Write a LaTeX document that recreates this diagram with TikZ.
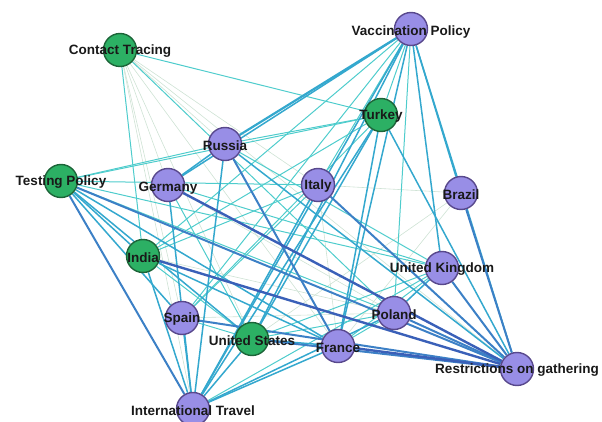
\documentclass[tikz,border=0pt]{standalone}
\usepackage{fontspec}
\setmainfont{Liberation Sans}
\usetikzlibrary{backgrounds}
\definecolor{pfill}{RGB}{152,142,230}
\definecolor{pdraw}{RGB}{88,72,140}
\definecolor{gfill}{RGB}{44,176,100}
\definecolor{gdraw}{RGB}{28,100,56}
\definecolor{cfaint}{RGB}{206,226,212}
\definecolor{cteal}{RGB}{78,204,204}
\definecolor{cmed}{RGB}{52,168,206}
\definecolor{cblue}{RGB}{60,128,198}
\definecolor{cdark}{RGB}{58,96,184}
\tikzset{
  pnode/.style={circle,fill=pfill,draw=pdraw,line width=1.4pt,minimum size=33pt,inner sep=0pt},
  gnode/.style={circle,fill=gfill,draw=gdraw,line width=1.4pt,minimum size=33pt,inner sep=0pt},
  lab/.style={font=\bfseries\fontsize{13.5}{15}\selectfont,text=black!90,inner sep=0pt,yshift=-1.5pt},
  ef/.style={draw=cfaint,line width=0.6pt},
  et/.style={draw=cteal,line width=1pt},
  em/.style={draw=cmed,line width=1.5pt},
  eb/.style={draw=cblue,line width=2pt},
  ed/.style={draw=cdark,line width=2.4pt}
}
\begin{document}
\begin{tikzpicture}[x=1pt,y=-1pt]
\useasboundingbox (0,0) rectangle (602,422);
% nodes
\node[gnode] (ct) at (120,50) {};
\node[pnode] (vp) at (411,29) {};
\node[gnode] (tk) at (381,115) {};
\node[pnode] (ru) at (225,144) {};
\node[gnode] (tp) at (61,181) {};
\node[pnode] (de) at (168,185) {};
\node[pnode] (itl) at (318,185) {};
\node[pnode] (br) at (461,193) {};
\node[gnode] (in) at (143,256) {};
\node[pnode] (uk) at (442,268) {};
\node[pnode] (es) at (182,318) {};
\node[pnode] (pl) at (394,313) {};
\node[gnode] (us) at (252,339) {};
\node[pnode] (fr) at (338,346) {};
\node[pnode] (rg) at (517,369) {};
\node[pnode] (itv) at (193,409) {};
% edges
\begin{scope}[on background layer]
% faint
\foreach \a/\b in {ct/de,ct/es,ct/itv,ct/us,ct/fr,ct/itl,ct/rg,ct/ru,itl/br,br/us,br/fr,in/pl,de/pl,itl/fr,es/pl}
  \path[ef] (\a) -- (\b);
% teal
\foreach \a/\b in {ct/tk,ct/pl,ct/in,tp/ru,tp/itl,tp/uk,tp/pl,vp/tk,vp/itl,vp/in,vp/es,vp/pl,tk/ru,tk/es,tk/in,ru/uk,de/us,itl/es,itl/in,in/us,us/uk,us/pl,fr/pl,fr/uk,uk/itv,tk/tp,de/uk,es/us}
  \path[et] (\a) -- (\b);
% medium
\foreach \a/\b in {tp/in,tp/es,tp/us,tp/fr,vp/de,vp/us,vp/itv,vp/fr,vp/uk,vp/br,vp/rg,tk/itv,tk/us,tk/rg,tk/fr,ru/de,ru/itv,ru/rg,de/itv,itl/itv,in/itv,in/fr,es/itv,us/itv,us/fr,fr/itv,pl/uk,pl/itv}
  \path[em] (\a) -- (\b);
\path[em,line width=2.2pt] (vp) -- (ru);
% blue
\foreach \a/\b in {tp/itv,tp/rg,ru/fr,itl/rg,br/rg,es/rg,us/rg,pl/rg,uk/rg}
  \path[eb] (\a) -- (\b);
% dark
\foreach \a/\b in {de/rg,in/rg,fr/rg}
  \path[ed] (\a) -- (\b);
\end{scope}
% labels
\node[lab] (ctl) at (ct) {Contact Tracing};
\node[lab] (vpl) at ([yshift=-2pt]vp) {Vaccination Policy};
\node[lab] (tkl) at (tk) {Turkey};
\node[lab] (rul) at (ru) {Russia};
\node[lab] (tpl) at (tp) {Testing Policy};
\node[lab] (del) at ([yshift=-2pt]de) {Germany};
\node[lab] (itll) at (itl) {Italy};
\node[lab] (brl) at (br) {Brazil};
\node[lab] (inl) at (in) {India};
\node[lab] (ukl) at (uk) {United Kingdom};
\node[lab] (esl) at (es) {Spain};
\node[lab] (pll) at (pl) {Poland};
\node[lab] (usl) at (us) {United States};
\node[lab] (frl) at (fr) {France};
\node[lab] (rgl) at (rg) {Restrictions on gathering};
\node[lab] (itvl) at (itv) {International Travel};
\end{tikzpicture}
\end{document}
